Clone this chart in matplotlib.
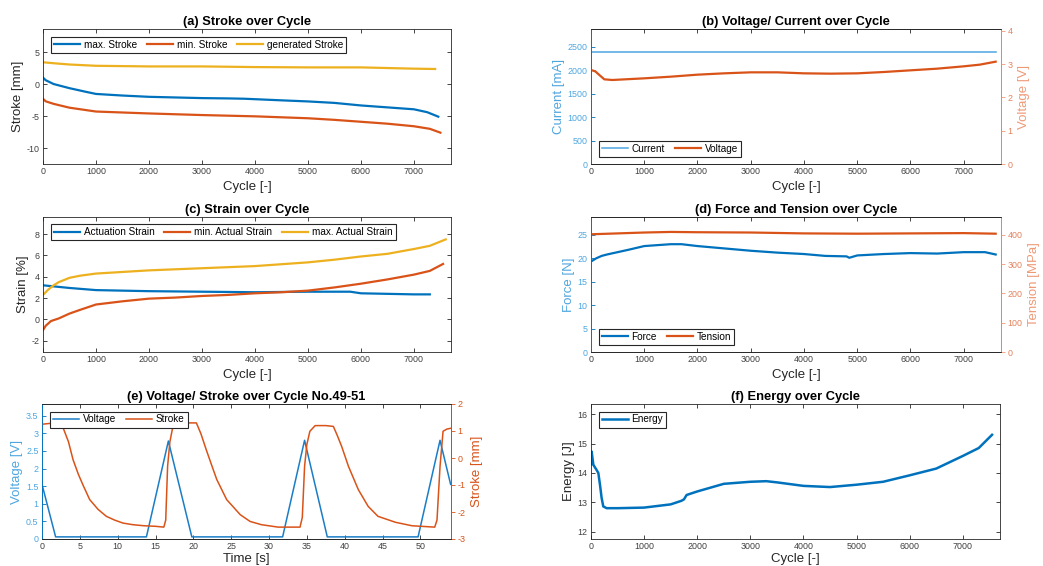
import numpy as np
import matplotlib.pyplot as plt
from matplotlib.ticker import MultipleLocator, FormatStrFormatter

plt.rcParams['font.family'] = ['Liberation Sans', 'DejaVu Sans']
plt.rcParams['axes.unicode_minus'] = False

# =========================
# DATA
# =========================
# (a) stroke over cycle
cyc_smax = [0, 50, 200, 500, 800, 1000, 1500, 2000, 2500, 3000, 3500, 3800, 4000,
            4500, 5000, 5500, 6000, 6500, 7000, 7250, 7460]
stroke_max = [1.0, 0.6, 0.0, -0.65, -1.2, -1.55, -1.8, -2.0, -2.1, -2.2, -2.25, -2.3,
              -2.37, -2.55, -2.72, -2.95, -3.35, -3.65, -3.95, -4.4, -5.1]
cyc_smin = [0, 50, 200, 500, 1000, 1500, 2000, 3000, 4000, 5000, 5500, 6000, 6500,
            7000, 7300, 7500]
stroke_min = [-2.3, -2.7, -3.1, -3.7, -4.3, -4.45, -4.6, -4.85, -5.05, -5.35, -5.6,
              -5.9, -6.2, -6.6, -7.0, -7.6]
cyc_sgen = [0, 200, 500, 1000, 2000, 3000, 4000, 5000, 6000, 6500, 7000, 7400]
stroke_gen = [3.4, 3.25, 3.05, 2.85, 2.75, 2.75, 2.65, 2.6, 2.6, 2.5, 2.4, 2.35]

# (b) voltage / current over cycle
cyc_cur = [0, 2500, 5000, 7600]
current = [2400, 2400, 2400, 2400]
cyc_volt = [0, 80, 150, 250, 400, 1000, 1500, 2000, 2500, 3000, 3500, 4000, 4500,
            5000, 5500, 6000, 6500, 7000, 7300, 7600]
voltage = [2.82, 2.78, 2.68, 2.54, 2.52, 2.57, 2.62, 2.68, 2.72, 2.75, 2.75, 2.72,
           2.71, 2.72, 2.76, 2.81, 2.86, 2.93, 2.98, 3.07]

# (c) strain over cycle
cyc_act = [0, 200, 500, 1000, 1500, 2000, 3000, 4000, 5000, 5800, 6000, 6500, 7000, 7300]
strain_act = [3.2, 3.1, 2.95, 2.75, 2.7, 2.65, 2.6, 2.55, 2.6, 2.6, 2.45, 2.4, 2.35, 2.35]
cyc_amin = [0, 50, 150, 300, 500, 700, 1000, 1500, 2000, 2500, 3000, 3500, 4000, 4500,
            5000, 5500, 6000, 6500, 7000, 7300, 7550]
strain_min = [-1.0, -0.6, -0.15, 0.1, 0.55, 0.9, 1.4, 1.7, 1.95, 2.05, 2.2, 2.3, 2.45,
              2.55, 2.7, 3.0, 3.35, 3.75, 4.2, 4.55, 5.2]
cyc_amax = [0, 100, 200, 300, 500, 700, 1000, 1500, 2000, 3000, 4000, 5000, 5500, 6000,
            6500, 7000, 7300, 7600]
strain_max = [2.3, 2.8, 3.2, 3.5, 3.9, 4.1, 4.3, 4.45, 4.6, 4.8, 5.0, 5.35, 5.6, 5.9,
              6.15, 6.6, 6.9, 7.5]

# (d) force and tension over cycle
cyc_force = [0, 100, 200, 300, 500, 700, 1000, 1500, 1700, 2000, 2500, 3000, 3500, 4000,
             4400, 4800, 4850, 5000, 5500, 6000, 6500, 7000, 7400, 7600]
force = [19.3, 20.0, 20.5, 20.8, 21.3, 21.8, 22.6, 23.0, 23.0, 22.6, 22.1, 21.6, 21.2,
         20.9, 20.5, 20.4, 20.1, 20.6, 20.9, 21.1, 21.0, 21.3, 21.3, 20.8]
cyc_tens = [0, 500, 1000, 1500, 2000, 3000, 4000, 5000, 6000, 7000, 7600]
tension = [402, 405, 408, 410, 409, 408, 405, 404, 405, 406, 404]

# (e) voltage / stroke over cycle no. 49-51
t_volt = [0, 1.8, 13.8, 16.7, 19.8, 31.8, 34.7, 37.7, 49.7, 52.6, 54]
volt_e = [1.55, 0.06, 0.06, 2.78, 0.06, 0.06, 2.8, 0.06, 0.06, 2.8, 1.55]
t_stroke = [0, 1, 2, 2.8, 3.5, 4.1, 4.8, 5.4, 6.3, 7.4, 8.5, 9.6, 10.7, 12, 13.5, 15,
            16.1, 16.35, 16.6, 16.9, 17.3, 18, 19, 20.4, 21, 21.7, 22.4, 23.1, 24.4,
            26.2, 27.5, 29, 31.2, 34.1, 34.4, 34.7, 35.0, 35.4, 36.1, 37.5, 38.5, 39.0,
            39.6, 40.5, 41.8, 43.1, 44.4, 46.7, 48.9, 51.9, 52.2, 52.6, 53.0, 53.5, 54]
stroke_e = [1.25, 1.28, 1.22, 1.11, 0.6, -0.06, -0.6, -0.99, -1.54, -1.9, -2.16, -2.3,
            -2.41, -2.47, -2.51, -2.53, -2.56, -2.3, -0.3, 0.6, 1.17, 1.28, 1.3, 1.3,
            0.9, 0.31, -0.25, -0.8, -1.54, -2.1, -2.35, -2.47, -2.56, -2.56, -2.2,
            -0.31, 0.5, 0.99, 1.2, 1.2, 1.17, 0.85, 0.43, -0.31, -1.17, -1.79, -2.16,
            -2.38, -2.51, -2.56, -2.3, -0.31, 0.99, 1.07, 1.1]

# (f) energy over cycle
cyc_energy = [0, 12, 44, 106, 138, 169, 200, 231, 294, 500, 1000, 1500, 1700, 1750, 1800,
              2000, 2500, 3000, 3300, 3500, 4000, 4500, 5000, 5500, 6000, 6500, 7000,
              7300, 7550]
energy = [14.3, 14.73, 14.28, 14.1, 14.0, 13.6, 13.15, 12.86, 12.8, 12.8, 12.82, 12.93,
          13.05, 13.1, 13.25, 13.37, 13.63, 13.7, 13.72, 13.68, 13.56, 13.52, 13.6, 13.7,
          13.92, 14.15, 14.58, 14.85, 15.3]

# =========================
# STYLE
# =========================
BLUE = '#0072BD'
LBLUE = '#4DA6E0'
ORANGE = '#D95319'
LORANGE = '#EE9A78'
YELLOW = '#EDB120'
DARK = '#262626'
TICKC = '#404040'
W, H = 1043, 566

fig = plt.figure(figsize=(W / 100, H / 100), dpi=100)


def make_ax(l, t, r, b):
    return fig.add_axes([l / W, 1 - b / H, (r - l) / W, (b - t) / H])


def style(ax, right=True):
    ax.tick_params(direction='in', length=3, width=0.6, labelsize=6.4, colors=DARK,
                   labelcolor=TICKC, top=True, right=right, pad=2.5)
    for s in ax.spines.values():
        s.set_linewidth(0.6)
        s.set_color(DARK)


def color_y(ax, side, col, tcol):
    ax.spines[side].set_color(col)
    ax.tick_params(axis='y', colors=col, labelcolor=tcol)


def twin_right(ax2, col, tcol):
    ax2.spines['right'].set_color(col)
    ax2.tick_params(axis='y', direction='out', length=3, colors=col, labelcolor=tcol, pad=1.5)


def legend(ax, handles, loc, ncol):
    leg = ax.legend(handles=handles, loc=loc, ncol=ncol, fontsize=7.2, frameon=True,
                    fancybox=False, edgecolor=DARK, framealpha=1, borderpad=0.3,
                    handlelength=2.6, handletextpad=0.4, columnspacing=1.0,
                    borderaxespad=0.75, labelspacing=0.2)
    leg.get_frame().set_linewidth(0.8)
    return leg


def cycle_axis(ax, pad=3):
    ax.set_xlim(0, 7700)
    ax.xaxis.set_major_locator(MultipleLocator(1000))
    ax.set_xlabel('Cycle [-]', fontsize=9.5, color=DARK, labelpad=pad)


TFS = 9.3
LFS = 9.5

# (a)
ax = make_ax(43, 29, 451, 164)
style(ax)
h1, = ax.plot(cyc_smax, stroke_max, color=BLUE, lw=1.6, label='max. Stroke')
h2, = ax.plot(cyc_smin, stroke_min, color=ORANGE, lw=1.6, label='min. Stroke')
h3, = ax.plot(cyc_sgen, stroke_gen, color=YELLOW, lw=1.6, label='generated Stroke')
ax.set_ylim(-12.5, 8.6)
ax.yaxis.set_major_locator(MultipleLocator(5))
cycle_axis(ax)
ax.set_ylabel('Stroke [mm]', fontsize=LFS, color=DARK, labelpad=2)
ax.set_title('(a) Stroke over Cycle', fontsize=TFS, fontweight='bold', pad=3)
legend(ax, [h1, h2, h3], 'upper left', 3)

# (b)
ax = make_ax(591, 29, 1001, 164)
style(ax, right=False)
ax2 = ax.twinx()
style(ax2, right=True)
h1, = ax.plot(cyc_cur, current, color=LBLUE, lw=1.1, label='Current')
h2, = ax2.plot(cyc_volt, voltage, color=ORANGE, lw=1.6, label='Voltage')
ax.set_ylim(0, 2880)
ax.yaxis.set_major_locator(MultipleLocator(500))
ax2.set_ylim(0, 4.05)
ax2.yaxis.set_major_locator(MultipleLocator(1))
cycle_axis(ax)
ax.set_ylabel('Current [mA]', fontsize=LFS, color=LBLUE, labelpad=2)
ax2.set_ylabel('Voltage [V]', fontsize=LFS, color=LORANGE, labelpad=4)
color_y(ax, 'left', BLUE, LBLUE)
ax2.spines['left'].set_color(BLUE)
twin_right(ax2, LORANGE, '#E3805A')
ax.set_title('(b) Voltage/ Current over Cycle', fontsize=TFS, fontweight='bold', pad=3)
legend(ax2, [h1, h2], 'lower left', 2)

# (c)
ax = make_ax(43, 217, 451, 352)
style(ax)
h1, = ax.plot(cyc_act, strain_act, color=BLUE, lw=1.6, label='Actuation Strain')
h2, = ax.plot(cyc_amin, strain_min, color=ORANGE, lw=1.6, label='min. Actual Strain')
h3, = ax.plot(cyc_amax, strain_max, color=YELLOW, lw=1.6, label='max. Actual Strain')
ax.set_ylim(-3.05, 9.6)
ax.yaxis.set_major_locator(MultipleLocator(2))
cycle_axis(ax)
ax.set_ylabel('Strain [%]', fontsize=LFS, color=DARK, labelpad=2)
ax.set_title('(c) Strain over Cycle', fontsize=TFS, fontweight='bold', pad=3)
legend(ax, [h1, h2, h3], 'upper left', 3)

# (d)
ax = make_ax(591, 217, 1001, 352)
style(ax, right=False)
ax2 = ax.twinx()
style(ax2, right=True)
h1, = ax.plot(cyc_force, force, color=BLUE, lw=1.6, label='Force')
h2, = ax2.plot(cyc_tens, tension, color=ORANGE, lw=1.6, label='Tension')
ax.set_ylim(0, 28.8)
ax.yaxis.set_major_locator(MultipleLocator(5))
ax2.set_ylim(0, 461)
ax2.yaxis.set_major_locator(MultipleLocator(100))
cycle_axis(ax)
ax.set_ylabel('Force [N]', fontsize=LFS, color=LBLUE, labelpad=2)
ax2.set_ylabel('Tension [MPa]', fontsize=LFS, color=LORANGE, labelpad=4)
color_y(ax, 'left', BLUE, LBLUE)
ax2.spines['left'].set_color(BLUE)
twin_right(ax2, LORANGE, '#E3805A')
ax.set_title('(d) Force and Tension over Cycle', fontsize=TFS, fontweight='bold', pad=3)
legend(ax2, [h1, h2], 'lower left', 2)

# (e)
ax = make_ax(42, 404, 451, 539)
style(ax, right=False)
ax2 = ax.twinx()
style(ax2, right=True)
h1, = ax.plot(t_volt, volt_e, color='#1A7DC6', lw=1.1, label='Voltage')
h2, = ax2.plot(t_stroke, stroke_e, color=ORANGE, lw=1.1, label='Stroke')
ax.set_xlim(0, 54.05)
ax.xaxis.set_major_locator(MultipleLocator(5))
ax.set_ylim(0, 3.83)
ax.yaxis.set_major_locator(MultipleLocator(0.5))
ax.yaxis.set_major_formatter(FormatStrFormatter('%g'))
ax2.set_ylim(-3, 2)
ax2.yaxis.set_major_locator(MultipleLocator(1))
ax.set_xlabel('Time [s]', fontsize=LFS, color=DARK, labelpad=1)
ax.set_ylabel('Voltage [V]', fontsize=LFS, color=LBLUE, labelpad=2)
ax2.set_ylabel('Stroke [mm]', fontsize=LFS, color=ORANGE, labelpad=4)
color_y(ax, 'left', BLUE, LBLUE)
ax2.spines['left'].set_color(BLUE)
twin_right(ax2, ORANGE, ORANGE)
ax.set_title('(e) Voltage/ Stroke over Cycle No.49-51', fontsize=TFS, fontweight='bold', pad=3)
legend(ax2, [h1, h2], 'upper left', 2)

# (f)
ax = make_ax(591, 404, 1000, 539)
style(ax)
h1, = ax.plot(cyc_energy, energy, color=BLUE, lw=1.8, label='Energy')
ax.set_ylim(11.75, 16.35)
ax.yaxis.set_major_locator(MultipleLocator(1))
cycle_axis(ax, pad=1)
ax.set_ylabel('Energy [J]', fontsize=LFS, color=DARK, labelpad=2)
ax.set_title('(f) Energy over Cycle', fontsize=TFS, fontweight='bold', pad=3)
legend(ax, [h1], 'upper left', 1)

fig.savefig('out.png', dpi=100)
